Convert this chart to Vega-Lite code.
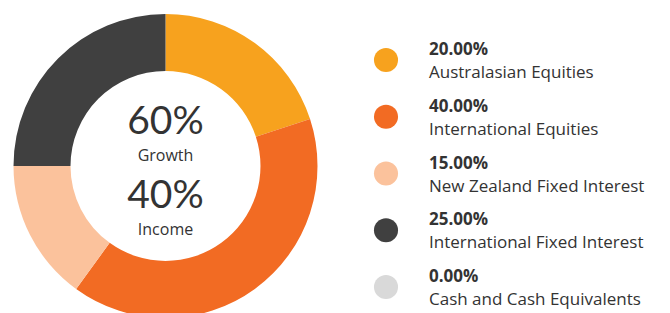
{
  "$schema": "https://vega.github.io/schema/vega-lite/v6.json",
  "padding": 0,
  "spacing": 0,
  "config": {"view": {"stroke": null}, "font": "Lato"},
  "datasets": {
    "alloc": [
      {"asset": "Australasian Equities", "pct": 20, "label": "20.00%", "order": 1},
      {"asset": "International Equities", "pct": 40, "label": "40.00%", "order": 2},
      {"asset": "New Zealand Fixed Interest", "pct": 15, "label": "15.00%", "order": 3},
      {"asset": "International Fixed Interest", "pct": 25, "label": "25.00%", "order": 4},
      {"asset": "Cash and Cash Equivalents", "pct": 0, "label": "0.00%", "order": 5}
    ],
    "centre": [
      {"big": "60%", "small": "Growth"},
      {"big": "40%", "small": "Income"}
    ]
  },
  "hconcat": [
    {
      "width": 331,
      "height": 313,
      "layer": [
        {
          "data": {"name": "alloc"},
          "mark": {"type": "arc", "outerRadius": 152, "innerRadius": 95, "yOffset": 9.5, "clip": true},
          "encoding": {
            "theta": {"field": "pct", "type": "quantitative", "stack": true},
            "order": {"field": "order", "type": "quantitative"},
            "color": {
              "field": "asset", "type": "nominal", "legend": null,
              "scale": {
                "domain": ["Australasian Equities", "International Equities", "New Zealand Fixed Interest", "International Fixed Interest", "Cash and Cash Equivalents"],
                "range": ["#F7A21E", "#F26B23", "#FBC29C", "#404040", "#D9D9D9"]
              }
            }
          }
        },
        {
          "data": {"name": "centre"},
          "transform": [{"filter": "datum.small == 'Growth'"}],
          "layer": [
            {"mark": {"type": "text", "fontSize": 39, "fontWeight": 400, "color": "#333333", "baseline": "middle", "dy": -35},
             "encoding": {"text": {"field": "big"}}},
            {"mark": {"type": "text", "font": "Open Sans", "fontSize": 16, "color": "#333333", "baseline": "middle", "dy": -1},
             "encoding": {"text": {"field": "small"}}}
          ]
        },
        {
          "data": {"name": "centre"},
          "transform": [{"filter": "datum.small == 'Income'"}],
          "layer": [
            {"mark": {"type": "text", "fontSize": 39, "fontWeight": 400, "color": "#333333", "baseline": "middle", "dy": 39},
             "encoding": {"text": {"field": "big"}}},
            {"mark": {"type": "text", "font": "Open Sans", "fontSize": 16, "color": "#333333", "baseline": "middle", "dy": 73},
             "encoding": {"text": {"field": "small"}}}
          ]
        }
      ]
    },
    {
      "width": 110,
      "height": 313,
      "data": {"name": "alloc"},
      "encoding": {
        "y": {"field": "order", "type": "ordinal", "axis": null, "scale": {"type": "point", "range": [60, 287], "padding": 0}}
      },
      "layer": [
        {
          "mark": {"type": "point", "filled": true, "shape": "circle", "size": 580, "opacity": 1},
          "encoding": {
            "color": {
              "field": "asset", "type": "nominal", "legend": null,
              "scale": {
                "domain": ["Australasian Equities", "International Equities", "New Zealand Fixed Interest", "International Fixed Interest", "Cash and Cash Equivalents"],
                "range": ["#F7A21E", "#F26B23", "#FBC29C", "#404040", "#D9D9D9"]
              }
            }
          }
        },
        {
          "mark": {"type": "text", "font": "Open Sans", "align": "left", "baseline": "middle", "dx": 43, "dy": -10, "fontSize": 17, "fontWeight": "bold", "color": "#333333"},
          "encoding": {"text": {"field": "label"}}
        },
        {
          "mark": {"type": "text", "font": "Open Sans", "align": "left", "baseline": "middle", "dx": 43, "dy": 13, "fontSize": 17, "color": "#333333"},
          "encoding": {"text": {"field": "asset"}}
        }
      ]
    }
  ]
}
